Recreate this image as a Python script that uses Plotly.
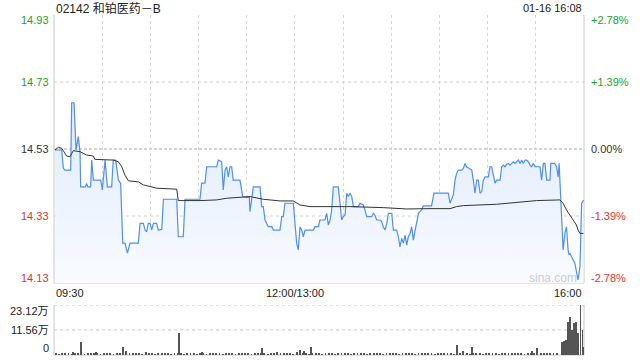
import plotly.graph_objects as go

title_text = "02142 和铂医药－B"
stamp_text = "01-16 16:08"
price_ticks = [14.93, 14.73, 14.53, 14.33, 14.13]
price_tick_text = ["14.93", "14.73", "14.53", "14.33", "14.13"]
pct_tick_text = ["+2.78%", "+1.39%", "0.00%", "-1.39%", "-2.78%"]
tick_colors = ["#22a322", "#22a322", "#333333", "#e8312f", "#e8312f"]
time_pos = [0, 150, 330]
time_labels = ["09:30", "12:00/13:00", "16:00"]
vol_tick_vals = [231.2, 115.6, 0]
vol_tick_text = ["23.12万", "11.56万", "0"]

# minutes since 09:30 (lunch break removed), price
price_t = [0.6, 4.8, 5.8, 6.8, 10.4, 11.0, 12.5, 13.7, 15.1, 16.2, 16.6, 19.5, 20.3, 21.0, 22.8, 23.5,
           24.5, 29.1, 30.1, 31.8, 33.2, 35.9, 36.9, 38.4, 40.1, 41.5, 42.8, 44.2, 45.7, 47.3, 52.5,
           53.6, 55.6, 56.7, 57.7, 58.7, 59.8, 60.8, 61.9, 63.9, 64.9, 67.1, 68.1, 76.4, 77.4, 80.5,
           81.6, 90.9, 91.9, 94.0, 95.1, 101.3, 102.3, 104.4, 105.4, 106.5, 107.5, 108.5, 109.6, 110.6,
           111.6, 115.8, 117.5, 120.0, 121.6, 122.0, 124.1, 128.3, 129.3, 130.3, 131.4, 133.4, 135.6,
           136.6, 140.7, 141.8, 142.8, 143.8, 149.0, 150.1, 151.1, 152.1, 153.2, 154.2, 155.2, 156.3,
           161.5, 162.5, 164.6, 165.6, 168.7, 169.8, 170.8, 171.9, 172.9, 173.9, 177.0, 178.1, 179.1,
           180.1, 181.2, 182.3, 183.3, 184.3, 185.4, 186.4, 189.5, 190.5, 192.6, 193.6, 194.7, 197.8,
           198.8, 199.8, 200.9, 203.0, 204.0, 205.0, 206.1, 207.2, 208.2, 210.3, 211.3, 213.4, 214.4,
           215.4, 216.5, 217.5, 218.6, 219.6, 220.6, 221.7, 222.7, 223.7, 224.8, 225.8, 226.9, 227.9,
           228.9, 229.9, 235.1, 236.6, 245.5, 246.6, 247.6, 248.6, 249.7, 250.7, 251.7, 253.8, 254.9,
           255.9, 256.9, 260.1, 261.1, 262.1, 263.2, 264.2, 265.3, 266.3, 267.3, 268.4, 270.4, 271.5,
           272.5, 273.5, 274.6, 275.6, 277.7, 278.8, 279.8, 280.8, 281.9, 282.9, 283.9, 285.0, 286.0,
           287.1, 288.1, 289.1, 290.2, 291.2, 292.2, 293.3, 294.3, 295.3, 296.4, 297.4, 298.5, 299.5,
           302.6, 303.6, 304.7, 305.7, 306.8, 308.8, 309.3, 311.8, 312.9, 313.9, 314.5, 315.4, 316.4,
           317.0, 318.1, 319.1, 320.1, 320.7, 321.2, 322.2, 323.2, 324.3, 325.3, 326.3, 327.5, 328.5,
           329.2, 329.6]
price_v = [14.527, 14.527, 14.473, 14.467, 14.467, 14.668, 14.668, 14.527, 14.567, 14.522, 14.417, 14.417,
           14.427, 14.417, 14.417, 14.497, 14.437, 14.437, 14.408, 14.497, 14.417, 14.417, 14.497, 14.497,
           14.437, 14.427, 14.249, 14.249, 14.219, 14.249, 14.249, 14.308, 14.308, 14.288, 14.283, 14.308,
           14.308, 14.288, 14.308, 14.308, 14.288, 14.290, 14.380, 14.380, 14.268, 14.268, 14.380, 14.380,
           14.428, 14.428, 14.477, 14.477, 14.497, 14.492, 14.408, 14.467, 14.477, 14.447, 14.477, 14.477,
           14.437, 14.437, 14.388, 14.385, 14.388, 14.343, 14.417, 14.417, 14.358, 14.358, 14.318, 14.298,
           14.298, 14.288, 14.288, 14.328, 14.328, 14.368, 14.368, 14.298, 14.249, 14.229, 14.298, 14.288,
           14.268, 14.288, 14.288, 14.298, 14.298, 14.318, 14.318, 14.338, 14.303, 14.318, 14.348, 14.417,
           14.417, 14.368, 14.318, 14.328, 14.333, 14.398, 14.388, 14.398, 14.388, 14.358, 14.358, 14.368,
           14.363, 14.348, 14.328, 14.328, 14.338, 14.333, 14.318, 14.318, 14.313, 14.298, 14.288, 14.308,
           14.338, 14.338, 14.288, 14.288, 14.268, 14.238, 14.263, 14.249, 14.273, 14.243, 14.268, 14.278,
           14.298, 14.258, 14.288, 14.318, 14.338, 14.343, 14.348, 14.360, 14.360, 14.398, 14.398, 14.368,
           14.383, 14.393, 14.437, 14.457, 14.467, 14.467, 14.472, 14.487, 14.477, 14.467, 14.437, 14.398,
           14.437, 14.437, 14.398, 14.403, 14.437, 14.447, 14.447, 14.477, 14.477, 14.447, 14.428, 14.437,
           14.437, 14.477, 14.482, 14.477, 14.485, 14.487, 14.482, 14.487, 14.492, 14.487, 14.492, 14.497,
           14.487, 14.497, 14.487, 14.497, 14.497, 14.492, 14.482, 14.477, 14.487, 14.477, 14.477, 14.437,
           14.487, 14.487, 14.437, 14.437, 14.487, 14.487, 14.477, 14.447, 14.487, 14.383, 14.298, 14.229,
           14.278, 14.298, 14.229, 14.214, 14.219, 14.209, 14.199, 14.189, 14.164, 14.139, 14.179, 14.368,
           14.373, 14.378]

avg_t = [0.6, 2.7, 4.8, 7.9, 10.0, 12.0, 16.2, 20.3, 24.5, 25.5, 36.9, 40.1, 42.2, 44.2, 46.3, 52.5,
         55.6, 59.8, 63.9, 76.4, 77.4, 90.9, 101.3, 107.5, 122.0, 130.3, 140.7, 149.0, 151.1, 153.2,
         159.4, 184.3, 205.0, 219.6, 234.1, 246.6, 250.7, 254.9, 275.6, 296.4, 300.5, 315.0, 317.0,
         319.1, 321.2, 323.2, 325.3, 326.3, 327.5, 329.6]
avg_v = [14.527, 14.535, 14.532, 14.509, 14.507, 14.525, 14.522, 14.512, 14.509, 14.499, 14.497, 14.492,
         14.477, 14.452, 14.435, 14.432, 14.423, 14.417, 14.413, 14.410, 14.376, 14.376, 14.378, 14.383,
         14.388, 14.380, 14.375, 14.375, 14.368, 14.363, 14.358, 14.358, 14.355, 14.351, 14.352, 14.352,
         14.358, 14.361, 14.365, 14.373, 14.376, 14.378, 14.368, 14.348, 14.333, 14.318, 14.303, 14.288,
         14.278, 14.278]

# volume, thousands of shares
vol_small_t = list(range(1, 315, 2))
vol_small_v = [6, 4, 9, 5, 7, 3, 8, 5, 6, 4, 7, 5, 9, 6, 4, 8, 5, 7, 3, 6,
               5, 8, 4, 6, 9, 5, 7, 4, 6, 5, 8, 3, 6, 7, 5, 9, 4, 6, 5, 7,
               4, 6, 8, 5, 3, 7, 6, 4, 9, 5, 6, 7, 4, 5, 8, 6, 3, 7, 5, 6,
               9, 4, 6, 5, 7, 8, 4, 6, 5, 3, 7, 6, 5, 8, 4, 6, 7, 5, 9, 4,
               6, 5, 7, 3, 8, 5, 6, 4, 7, 6, 5, 8, 4, 9, 6, 5, 7, 4, 6, 8,
               5, 6, 3, 7, 5, 8, 6, 4, 7, 5, 6, 9, 4, 5, 7, 6, 8, 5, 4, 6,
               7, 5, 6, 8, 4, 7, 5, 9, 6, 4, 5, 7, 6, 3, 8, 5, 6, 7, 4, 6,
               5, 8, 9, 6, 7, 5, 4, 6, 8, 5, 7, 6, 5, 9, 8, 6, 7]
vol_big_t = [12.0, 17.0, 26.0, 43.2, 44.8, 57.1, 78.0, 92.0, 129.7, 138.7, 151.1, 153.2, 155.7, 159.8,
             250.7, 254.5, 260.5, 297.4, 300.9, 316.1, 317.4, 318.7, 320.0, 321.3, 322.6, 323.9,
             325.2, 326.5, 327.8, 329.1, 330.0]
vol_big_v = [15, 61.5, 14, 38.4, 20, 12, 103, 12, 31, 12, 15, 22, 17, 38.4,
             46, 18, 38.4, 18, 34, 61.5, 66, 69, 154, 177, 115.6, 146.6,
             154, 100, 231.2, 115, 38.4]

FONT = "Liberation Sans, Arial, Noto Sans CJK SC, sans-serif"
H, MT, MB = 360, 15, 5
PH = H - MT - MB


def py(px):
    return (H - MB - px) / PH


vol_x, vol_y = [], []
for t, v in zip(vol_small_t, vol_small_v):
    vol_x.append(t)
    vol_y.append(v)
for t, v in zip(vol_big_t, vol_big_v):
    vol_x.append(t)
    vol_y.append(v)

fig = go.Figure()
fig.add_trace(go.Scatter(
    x=price_t, y=price_v, mode="lines", xaxis="x", yaxis="y",
    line=dict(color="#4f8ff0", width=1.2), fill="tozeroy",
    fillgradient=dict(type="vertical", start=14.13, stop=14.67,
                      colorscale=[[0, "rgba(249,251,255,1)"], [1, "rgba(222,234,252,1)"]]),
    hoverinfo="skip", showlegend=False))
fig.add_trace(go.Scatter(
    x=avg_t, y=avg_v, mode="lines", xaxis="x", yaxis="y",
    line=dict(color="#333333", width=1), hoverinfo="skip", showlegend=False))
fig.add_trace(go.Bar(
    x=vol_x, y=vol_y,
    xaxis="x2", yaxis="y2", width=0.5, marker=dict(color="#555555", line=dict(width=0)),
    hoverinfo="skip", showlegend=False))

main_bottom = py(283)
vol_top = py(305)

fig.update_layout(
    width=640, height=360, margin=dict(l=54, r=56, t=MT, b=MB),
    paper_bgcolor="white", plot_bgcolor="white", font=dict(family=FONT, size=11, color="#333"),
    bargap=0, barmode="overlay",
    xaxis=dict(domain=[0, 1], range=[0, 330], anchor="y", tickvals=[30 * i for i in range(1, 11)],
               showticklabels=False, ticks="", showgrid=True, gridcolor="#d6d6d6", griddash="dot",
               gridwidth=1, zeroline=False, showline=False, fixedrange=True),
    yaxis=dict(domain=[main_bottom, 1], range=[14.13, 14.93], showgrid=False, showticklabels=False,
               zeroline=False, showline=False, ticks=""),
    xaxis2=dict(domain=[0, 1], range=[0, 330], anchor="y2", showgrid=False, showticklabels=False,
                zeroline=False, showline=False, ticks=""),
    yaxis2=dict(domain=[0, vol_top], range=[0, 231.2], showgrid=False, showticklabels=False,
                zeroline=False, showline=False, ticks=""),
)

shapes = []
for v in [14.73, 14.33]:
    shapes.append(dict(type="line", xref="x domain", yref="y", x0=0, x1=1, y0=v, y1=v,
                       line=dict(color="#d0d0d0", width=1, dash="dot"), layer="below"))
shapes.append(dict(type="line", xref="x domain", yref="y", x0=0, x1=1, y0=14.53, y1=14.53,
                   line=dict(color="#aaaaaa", width=1, dash="3px,2px"), layer="below"))
# main frame
for x0 in [0, 1]:
    shapes.append(dict(type="line", xref="x domain", yref="y domain", x0=x0, x1=x0, y0=0, y1=1,
                       line=dict(color="#c8c8c8", width=1), layer="below"))
shapes.append(dict(type="line", xref="x domain", yref="y domain", x0=0, x1=1, y0=0, y1=0,
                   line=dict(color="#c8c8c8", width=1), layer="below"))
# volume frame
for v in [231.2, 115.6]:
    shapes.append(dict(type="line", xref="x2 domain", yref="y2", x0=0, x1=1, y0=v, y1=v,
                       line=dict(color="#c8c8c8", width=1, dash="dot"), layer="below"))
for x0 in [0, 1]:
    shapes.append(dict(type="line", xref="x2 domain", yref="y2 domain", x0=x0, x1=x0, y0=0, y1=1,
                       line=dict(color="#c8c8c8", width=1), layer="below"))
shapes.append(dict(type="line", xref="x2 domain", yref="y2 domain", x0=0, x1=1, y0=0, y1=0,
                   line=dict(color="#c8c8c8", width=1), layer="below"))
fig.update_layout(shapes=shapes)

ann = []
ann.append(dict(text=title_text, xref="paper", yref="paper", x=0, y=py(8), xanchor="left",
                yanchor="middle", showarrow=False, font=dict(size=12, color="#222")))
ann.append(dict(text=stamp_text, xref="paper", yref="paper", x=1, y=py(8), xanchor="right",
                yanchor="middle", showarrow=False, font=dict(size=11, color="#222")))
n = len(price_ticks)
for i, (v, t, p, c) in enumerate(zip(price_ticks, price_tick_text, pct_tick_text, tick_colors)):
    ys = -5 if i == 0 else (5 if i == n - 1 else 0)
    ann.append(dict(text=t, xref="paper", yref="y", x=0, y=v, xanchor="right", yanchor="middle",
                    xshift=-3, yshift=ys, showarrow=False, font=dict(size=11, color=c)))
    ann.append(dict(text=p, xref="paper", yref="y", x=1, y=v, xanchor="left", yanchor="middle",
                    xshift=5, yshift=ys, showarrow=False, font=dict(size=11, color=c)))
anchors = ["left", "center", "right"]
for pos, lab, a in zip(time_pos, time_labels, anchors):
    ann.append(dict(text=lab, xref="x", yref="paper", x=pos, y=py(293), xanchor=a, yanchor="middle",
                    showarrow=False, font=dict(size=11, color="#222")))
for i, (v, t) in enumerate(zip(vol_tick_vals, vol_tick_text)):
    ys = -6 if i == 0 else (7 if i == len(vol_tick_vals) - 1 else 0)
    ann.append(dict(text=t, xref="paper", yref="y2", x=0, y=v, xanchor="right", yanchor="middle",
                    xshift=-3, yshift=ys, showarrow=False, font=dict(size=11, color="#222")))
ann.append(dict(text="sina.com", xref="paper", yref="paper", x=(553 - 54) / 530, y=py(278),
                xanchor="center", yanchor="middle", showarrow=False,
                font=dict(size=12, color="#cccccc")))
fig.update_layout(annotations=ann)

fig.write_html("out.html")
